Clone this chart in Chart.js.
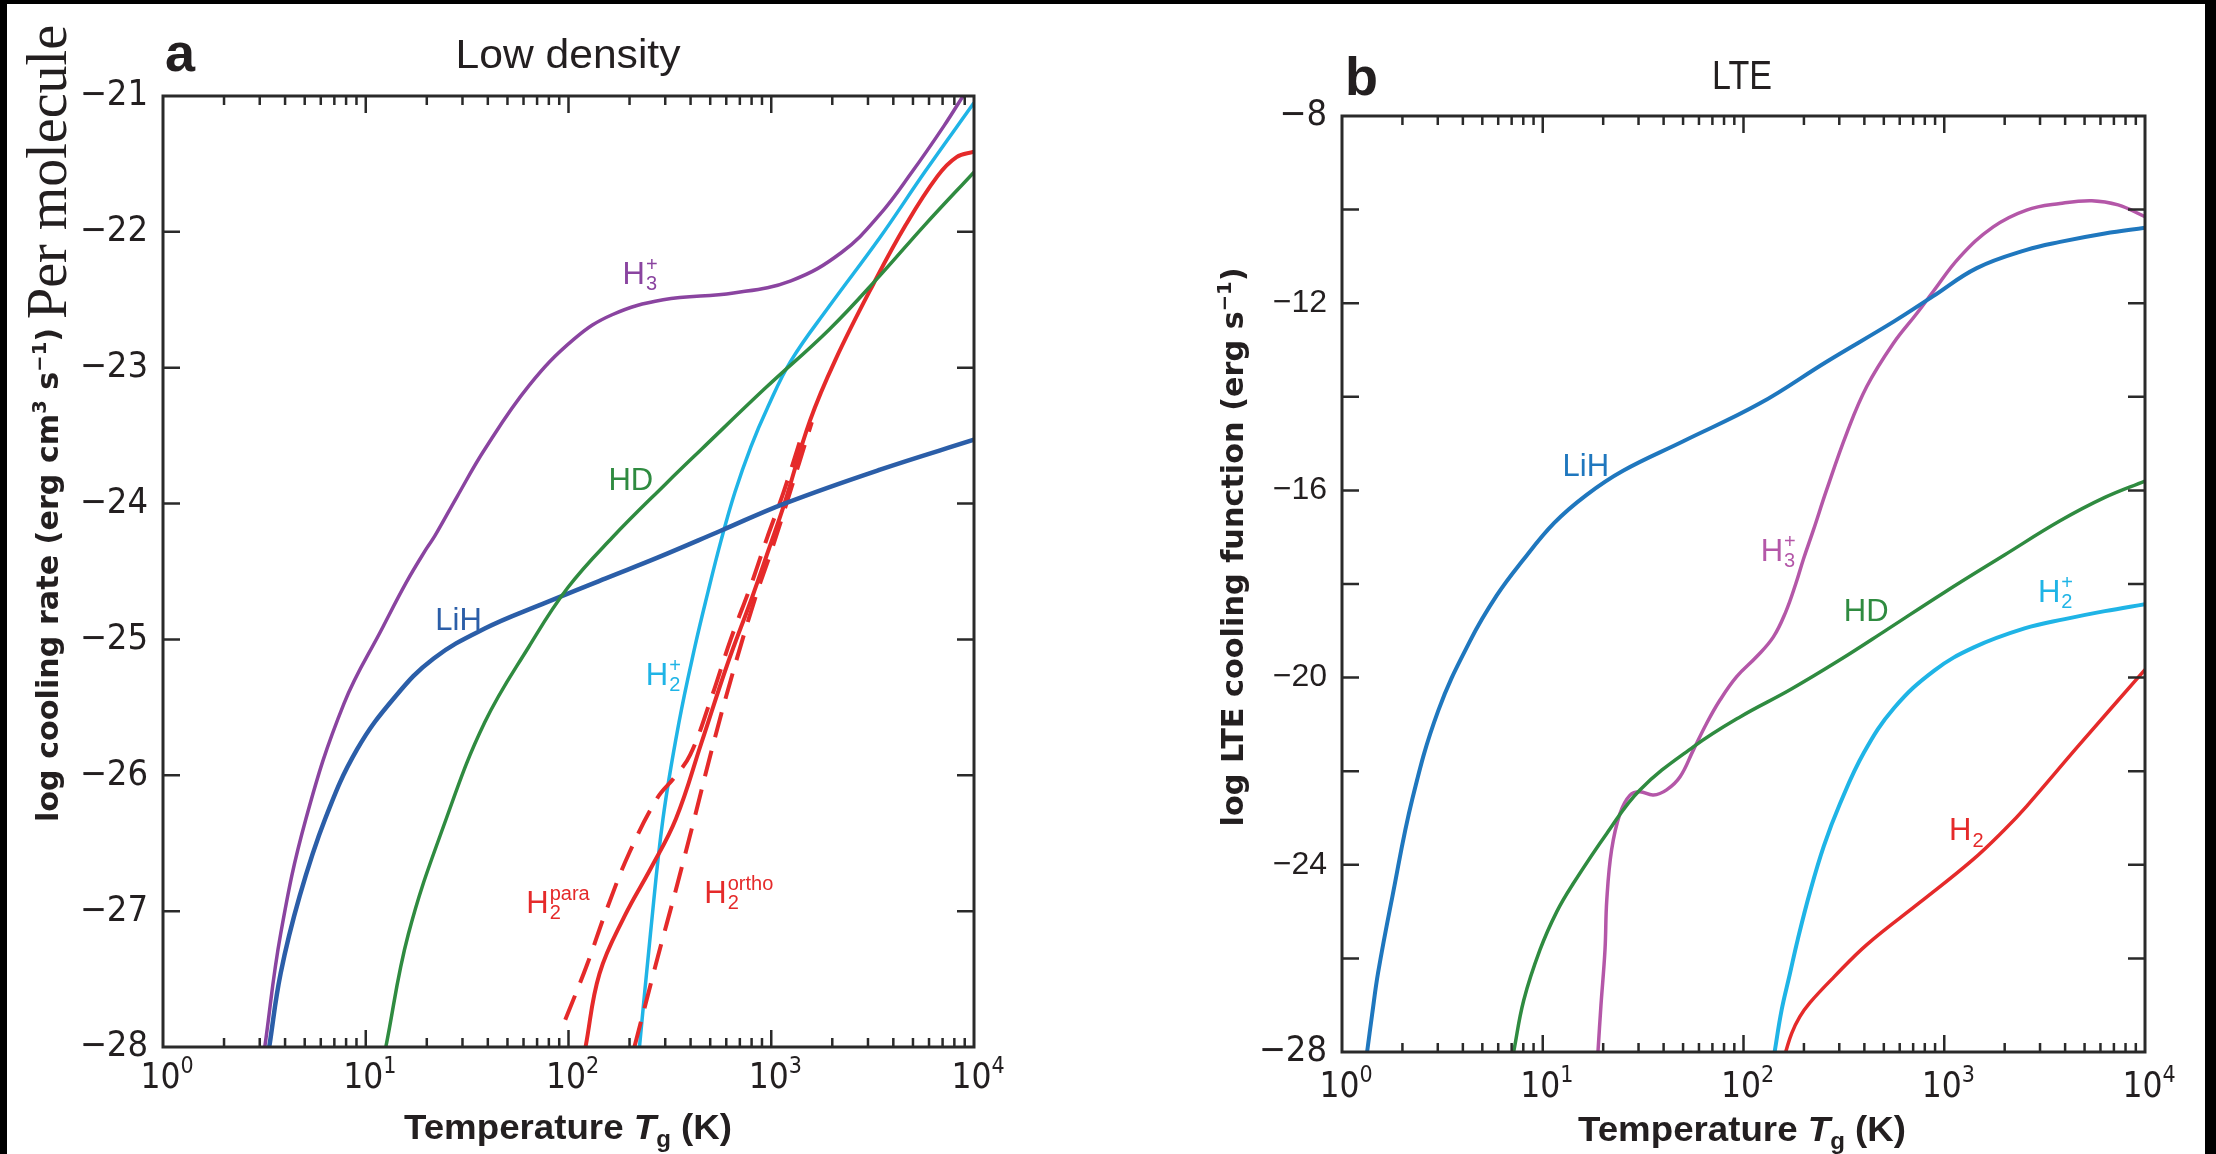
<!DOCTYPE html>
<html>
<head>
<meta charset="utf-8">
<title>Cooling functions</title>
<script src="https://cdn.jsdelivr.net/npm/chart.js@4.4.1/dist/chart.umd.min.js"></script>
<style>
  html, body { margin: 0; padding: 0; background: #000; overflow: hidden; }
  #wrap { position: relative; width: 2216px; height: 1154px; }
  #paper { position: absolute; left: 7px; top: 4px; width: 2198px; height: 1150px; background: #fff; }
  canvas { position: absolute; left: 0; top: 0; }
</style>
</head>
<body>
<div id="wrap">
  <div id="paper"></div>
  <canvas id="chartA" width="2216" height="1154"></canvas>
  <canvas id="chartB" width="2216" height="1154"></canvas>
</div>
<script>
const NARROW = '"Liberation Sans Narrow", "DejaVu Sans Condensed", sans-serif';
const SANS = '"Liberation Sans", Arial, sans-serif';
const BOLDWIDE = '"DejaVu Sans", Verdana, sans-serif';
const SERIF = '"Liberation Serif", "Times New Roman", serif';
const INK = '#231f20';

// ---- panel a: low density; x values are log10(T / K), y is log cooling rate ----
const aLiH_lgT = [0.524, 0.58, 0.674, 0.80, 0.957, 1.146, 1.335, 1.587, 1.87, 2.184, 2.436, 2.751, 3.065, 3.537, 4.0];
const aLiH_val = [-28, -27.46, -26.89, -26.32, -25.81, -25.42, -25.14, -24.92, -24.74, -24.55, -24.40, -24.2, -24.0, -23.75, -23.53];

const aHD_lgT = [1.099, 1.21, 1.397, 1.587, 1.806, 1.996, 2.216, 2.483, 2.656, 2.971, 3.285, 3.537, 3.757, 4.0];
const aHD_val = [-28, -27.17, -26.32, -25.61, -25.05, -24.62, -24.25, -23.85, -23.6, -23.15, -22.72, -22.32, -21.95, -21.56];

const aH3p_lgT = [0.502, 0.58, 0.705, 0.893, 1.084, 1.2, 1.30, 1.34, 1.45, 1.587, 1.806, 2.027, 2.215, 2.467, 2.814, 3.097, 3.348, 3.537, 3.694, 3.852, 3.946];
const aH3p_val = [-28, -27.17, -26.32, -25.47, -24.91, -24.58, -24.33, -24.24, -23.95, -23.6, -23.13, -22.79, -22.61, -22.5, -22.45, -22.36, -22.15, -21.87, -21.56, -21.22, -21.0];

const aH2p_lgT = [2.35, 2.404, 2.466, 2.545, 2.624, 2.688, 2.751, 2.82, 2.90, 2.98, 3.097, 3.285, 3.537, 3.757, 4.0];
const aH2p_val = [-28, -27.17, -26.32, -25.61, -25.05, -24.65, -24.28, -23.92, -23.58, -23.3, -22.95, -22.55, -22.04, -21.56, -21.05];

const aH2_lgT = [2.084, 2.153, 2.279, 2.404, 2.53, 2.656, 2.782, 2.908, 2.987, 3.065, 3.191, 3.317, 3.505, 3.663, 3.82, 3.914, 4.0];
const aH2_val = [-28, -27.46, -27.03, -26.69, -26.32, -25.76, -25.19, -24.68, -24.34, -24.0, -23.39, -22.94, -22.38, -21.95, -21.59, -21.45, -21.41];

const aH2para_lgT = [1.984, 2.09, 2.19, 2.30, 2.437, 2.52, 2.60, 2.70, 2.80, 2.90, 2.98, 3.06, 3.15];
const aH2para_val = [-27.8, -27.4, -26.98, -26.57, -26.17, -26.02, -25.85, -25.45, -25.0, -24.6, -24.25, -23.92, -23.5];

const aH2ortho_lgT = [2.325, 2.44, 2.53, 2.624, 2.70, 2.80, 2.92, 3.0, 3.075, 3.2];
const aH2ortho_val = [-28, -27.34, -26.84, -26.3, -25.85, -25.3, -24.7, -24.35, -24.0, -23.4];

// ---- panel b: LTE; log LTE cooling function ----
const bLiH_lgT = [0.125, 0.15, 0.18, 0.25, 0.35, 0.48, 0.64, 0.77, 0.90, 1.056, 1.217, 1.4, 1.7, 2.082, 2.414, 2.746, 2.945, 3.162, 3.41, 3.577, 3.8, 4.0];
const bLiH_val = [-28, -27.2, -26.3, -24.7, -22.6, -20.7, -19.2, -18.25, -17.5, -16.7, -16.1, -15.58, -14.95, -14.14, -13.25, -12.4, -11.85, -11.25, -10.86, -10.69, -10.51, -10.39];

const bH3p_lgT = [1.275, 1.29, 1.31, 1.319, 1.343, 1.385, 1.435, 1.484, 1.551, 1.617, 1.684, 1.75, 1.816, 1.883, 1.966, 2.066, 2.149, 2.21, 2.26, 2.30, 2.348, 2.414, 2.514, 2.614, 2.746, 2.863, 2.945, 3.078, 3.244, 3.41, 3.577, 3.735, 3.866, 4.0];
const bH3p_val = [-28, -27.0, -25.82, -24.75, -23.68, -22.9, -22.51, -22.44, -22.51, -22.4, -22.12, -21.55, -20.98, -20.48, -19.98, -19.55, -19.13, -18.6, -18.0, -17.45, -16.85, -15.99, -14.78, -13.78, -12.86, -12.22, -11.75, -11.01, -10.37, -10.01, -9.87, -9.81, -9.9, -10.15];

const bHD_lgT = [0.855, 0.905, 0.986, 1.07, 1.152, 1.319, 1.484, 1.75, 1.983, 2.232, 2.481, 2.713, 3.0, 3.3, 3.577, 3.8, 4.0];
const bHD_val = [-28, -26.9, -25.82, -25.0, -24.4, -23.33, -22.4, -21.48, -20.84, -20.26, -19.62, -18.98, -18.18, -17.38, -16.65, -16.15, -15.8];

const bH2p_lgT = [2.155, 2.19, 2.23, 2.27, 2.33, 2.40, 2.48, 2.6, 2.75, 2.95, 3.15, 3.4, 3.6, 3.8, 4.0];
const bH2p_val = [-28, -27.1, -26.35, -25.6, -24.6, -23.6, -22.7, -21.6, -20.65, -19.85, -19.35, -18.95, -18.75, -18.58, -18.43];

const bH2_lgT = [2.21, 2.24, 2.28, 2.33, 2.45, 2.616, 2.88, 3.14, 3.3, 3.41, 3.67, 4.0];
const bH2_val = [-28, -27.6, -27.25, -26.95, -26.4, -25.7, -24.8, -23.9, -23.25, -22.75, -21.45, -19.83];

const decades = [0, 1, 2, 3, 4];

// colours
const C_PURPLE = '#8a44a0';
const C_MAGENTA = '#b457a8';
const C_NAVY = '#2b5ea8';
const C_BLUE = '#1f77be';
const C_GREEN = '#2f8b40';
const C_CYAN = '#1fb4e6';
const C_RED = '#e52a2a';

function pts(lg, val) {
  return lg.map((l, i) => ({ x: Math.pow(10, l), y: val[i] }));
}

function line(lg, val, color, width, dash) {
  return {
    data: pts(lg, val),
    borderColor: color,
    borderWidth: width,
    borderDash: dash || [],
    pointRadius: 0,
    fill: false,
    tension: 0.4,
    borderCapStyle: 'butt',
    borderJoinStyle: 'round'
  };
}

function minus(v) {
  return v < 0 ? '\u2212' + Math.abs(v) : String(v);
}

// draw a run of text pieces, optionally squeezed to a target width
function drawRich(ctx, segs, x, y, align, targetW) {
  let w = 0;
  segs.forEach(s => { ctx.font = s.f; s.w = ctx.measureText(s.t).width; w += s.w; });
  const k = targetW ? targetW / w : 1;
  ctx.save();
  ctx.translate(x, y);
  ctx.scale(k, 1);
  ctx.textAlign = 'left';
  ctx.textBaseline = 'alphabetic';
  let cx = align === 'center' ? -w / 2 : (align === 'right' ? -w : 0);
  segs.forEach(s => {
    ctx.font = s.f;
    ctx.fillStyle = s.c || INK;
    ctx.fillText(s.t, cx, s.dy || 0);
    cx += s.w;
  });
  ctx.restore();
}

// H with stacked subscript / superscript
function chem(ctx, x, y, base, sub, sup, color, size) {
  const small = Math.round(size * 0.66);
  ctx.font = size + 'px ' + SANS;
  const wb = ctx.measureText(base).width;
  ctx.font = small + 'px ' + SANS;
  const ws = Math.max(sub ? ctx.measureText(sub).width : 0, sup ? ctx.measureText(sup).width : 0);
  const x0 = x - (wb + ws + 1) / 2;
  const by = y + size * 0.36;
  ctx.fillStyle = color;
  ctx.textAlign = 'left';
  ctx.textBaseline = 'alphabetic';
  ctx.font = size + 'px ' + SANS;
  ctx.fillText(base, x0, by);
  ctx.font = small + 'px ' + SANS;
  if (sup) ctx.fillText(sup, x0 + wb + 1, by - size * 0.42);
  if (sub) ctx.fillText(sub, x0 + wb + 1, by + size * 0.2);
}

function decor(o) {
  return {
    id: 'decor' + o.key,
    afterDatasetsDraw(chart) {
      const { ctx, scales: { x, y } } = chart;
      ctx.save();
      o.labels.forEach(l => {
        chem(ctx, x.getPixelForValue(Math.pow(10, l.lgT)), y.getPixelForValue(l.val), l.base, l.sub, l.sup, l.color, 31);
      });
      ctx.restore();
    },
    afterDraw(chart) {
      const { ctx, chartArea: a, scales: { x, y } } = chart;
      ctx.save();
      // frame
      ctx.strokeStyle = '#2a2a2a';
      ctx.lineWidth = 3;
      ctx.strokeRect(a.left, a.top, a.right - a.left, a.bottom - a.top);
      // x ticks, inward on both sides
      ctx.lineWidth = 2.5;
      ctx.beginPath();
      for (let d = 0; d < 4; d++) {
        for (let m = 1; m <= 9; m++) {
          const v = m * Math.pow(10, d);
          if (v === 1) continue;
          const px = x.getPixelForValue(v);
          const len = m === 1 ? 17 : 9;
          ctx.moveTo(px, a.bottom); ctx.lineTo(px, a.bottom - len);
          ctx.moveTo(px, a.top); ctx.lineTo(px, a.top + len);
        }
      }
      // y ticks
      for (let v = o.yMin + o.yMinor; v < o.yMax - 1e-6; v += o.yMinor) {
        const py = y.getPixelForValue(v);
        ctx.moveTo(a.left, py); ctx.lineTo(a.left + 17, py);
        ctx.moveTo(a.right, py); ctx.lineTo(a.right - 17, py);
      }
      ctx.stroke();
      // x tick labels 10^n
      decades.forEach(d => {
        const px = x.getPixelForValue(Math.pow(10, d));
        drawRich(ctx, [
          { t: '10', f: '35px ' + NARROW },
          { t: String(d), f: '23px ' + NARROW, dy: -15 }
        ], px + 4, o.xLabelBase, 'center');
      });
      // x title
      drawRich(ctx, [
        { t: 'Temperature ', f: 'bold 35px ' + SANS },
        { t: 'T', f: 'italic bold 35px ' + SANS },
        { t: 'g', f: 'bold 23px ' + SANS, dy: 8 },
        { t: ' (K)', f: 'bold 35px ' + SANS }
      ], o.xTitleX, o.xTitleBase, 'center', 328);
      // panel letter and title
      drawRich(ctx, [{ t: o.letter, f: 'bold 54px ' + SANS }], o.letterX, o.letterBase, 'left');
      drawRich(ctx, [{ t: o.title, f: '40px ' + SANS }], o.titleX, o.titleBase, 'center', o.titleW);
      // y title, rotated
      ctx.save();
      ctx.translate(o.yTitleX, o.yTitleY);
      ctx.rotate(-Math.PI / 2);
      drawRich(ctx, o.yTitle, 0, 0, 'center', o.yTitleW);
      ctx.restore();
      if (o.yExtra) {
        ctx.save();
        ctx.translate(o.yExtra.x, o.yExtra.y);
        ctx.rotate(-Math.PI / 2);
        drawRich(ctx, [{ t: o.yExtra.text, f: '56px ' + SERIF }], 0, 0, 'center', o.yExtra.w);
        ctx.restore();
      }
      ctx.restore();
    }
  };
}

function baseOptions(pad, yMin, yMax, step, tickFont) {
  return {
    responsive: false,
    animation: false,
    devicePixelRatio: 1,
    events: [],
    layout: { padding: pad },
    plugins: { legend: { display: false }, tooltip: { enabled: false } },
    scales: {
      x: { type: 'logarithmic', min: 1, max: 10000, display: false },
      y: {
        type: 'linear', min: yMin, max: yMax,
        afterFit: s => { s.width = 120; },
        grid: { display: false, drawTicks: false },
        border: { display: false },
        ticks: { stepSize: step, padding: 15, color: INK, font: tickFont, callback: v => minus(v) }
      }
    }
  };
}

const BOLD30 = 'bold 31px ' + BOLDWIDE;
const BOLD19 = 'bold 20px ' + BOLDWIDE;

new Chart(document.getElementById('chartA'), {
  type: 'line',
  data: {
    datasets: [
      line(aHD_lgT, aHD_val, C_GREEN, 3.5),
      line(aH3p_lgT, aH3p_val, C_PURPLE, 3.5),
      line(aLiH_lgT, aLiH_val, C_NAVY, 4.5),
      line(aH2_lgT, aH2_val, C_RED, 4),
      line(aH2para_lgT, aH2para_val, C_RED, 4, [26, 14]),
      line(aH2ortho_lgT, aH2ortho_val, C_RED, 4, [26, 14]),
      line(aH2p_lgT, aH2p_val, C_CYAN, 3.5)
    ]
  },
  options: baseOptions({ left: 43, right: 1242, top: 96, bottom: 107 }, -28, -21, 1, { family: NARROW, size: 36 }),
  plugins: [decor({
    key: 'A', yMin: -28, yMax: -21, yMinor: 1,
    xLabelBase: 1088, xTitleX: 568, xTitleBase: 1139,
    letter: 'a', letterX: 165, letterBase: 71,
    title: 'Low density', titleX: 568, titleBase: 68, titleW: 225,
    yTitleX: 58, yTitleY: 575, yTitleW: 494,
    yTitle: [
      { t: 'log cooling rate (erg cm', f: BOLD30 },
      { t: '3', f: BOLD19, dy: -12 },
      { t: ' s', f: BOLD30 },
      { t: '\u22121', f: BOLD19, dy: -12 },
      { t: ')', f: BOLD30 }
    ],
    yExtra: { text: 'Per molecule', x: 66, y: 172, w: 294 },
    labels: [
      { lgT: 2.353, val: -22.30, base: 'H', sub: '3', sup: '+', color: C_PURPLE },
      { lgT: 2.31, val: -23.82, base: 'HD', color: C_GREEN },
      { lgT: 1.46, val: -24.85, base: 'LiH', color: C_NAVY },
      { lgT: 2.468, val: -25.25, base: 'H', sub: '2', sup: '+', color: C_CYAN },
      { lgT: 1.948, val: -26.93, base: 'H', sub: '2', sup: 'para', color: C_RED },
      { lgT: 2.84, val: -26.86, base: 'H', sub: '2', sup: 'ortho', color: C_RED }
    ]
  })]
});

new Chart(document.getElementById('chartB'), {
  type: 'line',
  data: {
    datasets: [
      line(bLiH_lgT, bLiH_val, C_BLUE, 4),
      line(bHD_lgT, bHD_val, C_GREEN, 3.5),
      line(bH3p_lgT, bH3p_val, C_MAGENTA, 3.5),
      line(bH2p_lgT, bH2p_val, C_CYAN, 4),
      line(bH2_lgT, bH2_val, C_RED, 3.5)
    ]
  },
  options: baseOptions({ left: 1222, right: 71, top: 116, bottom: 102 }, -28, -8, 4, c => {
    const v = c.tick ? c.tick.value : 0;
    return (v === -8 || v === -28) ? { family: NARROW, size: 36 } : { family: SANS, size: 32 };
  }),
  plugins: [decor({
    key: 'B', yMin: -28, yMax: -8, yMinor: 2,
    xLabelBase: 1097, xTitleX: 1742, xTitleBase: 1141,
    letter: 'b', letterX: 1345, letterBase: 95,
    title: 'LTE', titleX: 1742, titleBase: 89, titleW: 60,
    yTitleX: 1243, yTitleY: 547, yTitleW: 559,
    yTitle: [
      { t: 'log LTE cooling function (erg s', f: BOLD30 },
      { t: '\u22121', f: BOLD19, dy: -12 },
      { t: ')', f: BOLD30 }
    ],
    labels: [
      { lgT: 1.217, val: -15.46, base: 'LiH', color: C_BLUE },
      { lgT: 2.173, val: -17.27, base: 'H', sub: '3', sup: '+', color: C_MAGENTA },
      { lgT: 2.614, val: -18.56, base: 'HD', color: C_GREEN },
      { lgT: 3.554, val: -18.14, base: 'H', sub: '2', sup: '+', color: C_CYAN },
      { lgT: 3.11, val: -23.24, base: 'H', sub: '2', color: C_RED }
    ]
  })]
});
</script>
</body>
</html>
